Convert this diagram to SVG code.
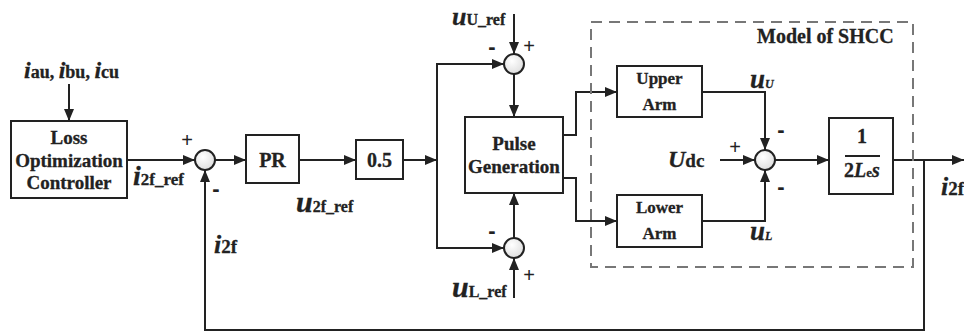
<svg xmlns="http://www.w3.org/2000/svg" width="964" height="335" viewBox="0 0 964 335">
<style>
.box{fill:#fff;stroke:#222;stroke-width:2}
.sum{fill:url(#sg);stroke:#222;stroke-width:2}
.ln{fill:none;stroke:#222;stroke-width:2}
.arr{fill:none;stroke:#222;stroke-width:2;marker-end:url(#ah)}
.t{font-weight:bold;fill:#222;stroke:#222;stroke-width:0.3}
.v{font-weight:bold;font-style:italic;fill:#222;stroke:#222;stroke-width:0.3}
.n{font-style:normal}
.sg{font-family:'Liberation Sans',Arial,sans-serif;font-size:20px;fill:#222;text-anchor:middle}
.mn{font-family:'Liberation Sans',Arial,sans-serif;font-weight:bold;font-size:22px;fill:#222;text-anchor:middle}
</style>
<defs>
<marker id="ah" markerUnits="userSpaceOnUse" markerWidth="13" markerHeight="11" refX="12" refY="5" orient="auto">
<path d="M0,0 L12,5 L0,10 z" fill="#222"/>
</marker>
<radialGradient id="sg" cx="0.4" cy="0.35" r="0.7">
<stop offset="0" stop-color="#fff"/>
<stop offset="1" stop-color="#ddd"/>
</radialGradient>
</defs>
<rect width="964" height="335" fill="#fff"/>

<g id="connectors">
<path class="arr" d="M69,84 V121"/>
<path class="arr" d="M127,160 H195"/>
<path class="arr" d="M215,160 H246"/>
<path class="arr" d="M299,160 H356"/>
<path class="arr" d="M403,160 H437"/>
<path class="arr" d="M437,160 V64 H504"/>
<path class="arr" d="M437,160 V248 H504"/>
<path class="arr" d="M514,14 V54"/>
<path class="arr" d="M514,74 V117"/>
<path class="arr" d="M514,298 V258"/>
<path class="arr" d="M514,238 V193"/>
<path class="arr" d="M563,135 H576 V92 H617"/>
<path class="arr" d="M563,178 H576 V221 H617"/>
<path class="arr" d="M702,92 H765 V150"/>
<path class="arr" d="M702,221 H765 V170"/>
<path class="arr" d="M720,160 H755"/>
<path class="arr" d="M775,160 H829"/>
<path class="arr" d="M893,160 H964"/>
<path class="arr" d="M924,160 V330 H205 V170"/>
</g>

<g font-family="Liberation Serif, Times New Roman, serif">
<g id="shcc-frame">
<rect x="591" y="22" width="322" height="245" fill="none" stroke="#777" stroke-width="2" stroke-dasharray="11 7"/>
<text class="t" x="757" y="43" font-size="20">Model of SHCC</text>
</g>

<g id="input-label">
<text class="v" x="24" y="78" font-size="24">i<tspan class="t n" font-size="18">au, </tspan>i<tspan class="t n" font-size="18">bu, </tspan>i<tspan class="t n" font-size="18">cu</tspan></text>
</g>

<g id="loss-controller">
<rect class="box" x="11" y="121" width="116" height="77"/>
<text class="t" x="69" y="144" font-size="19" text-anchor="middle">Loss</text>
<text class="t" x="69" y="167" font-size="19" text-anchor="middle">Optimization</text>
<text class="t" x="69" y="189" font-size="19" text-anchor="middle">Controller</text>
</g>

<g id="sum1">
<circle class="sum" cx="205" cy="160" r="10"/>
<text class="sg" x="187" y="147">+</text>
<text class="mn" x="216" y="196">-</text>
</g>
<text class="v" x="133" y="185" font-size="28">i<tspan class="t n" font-size="17">2f_ref</tspan></text>
<text class="v" x="214" y="253" font-size="26">i<tspan class="t n" font-size="19">2f</tspan></text>

<g id="pr">
<rect class="box" x="246" y="135" width="53" height="48"/>
<text class="t" x="272.5" y="167" font-size="20" text-anchor="middle">PR</text>
</g>
<text class="v" x="296" y="212" font-size="30">u<tspan class="t n" font-size="16">2f_ref</tspan></text>

<g id="gain">
<rect class="box" x="356" y="140" width="47" height="39"/>
<text class="t" x="379.5" y="167" font-size="20" text-anchor="middle">0.5</text>
</g>

<g id="sum-upper">
<circle class="sum" cx="514" cy="64" r="10"/>
<text class="mn" x="492" y="54">-</text>
<text class="sg" x="529" y="53">+</text>
<text class="v" x="452" y="25" font-size="26">u<tspan class="t n" font-size="16">U_ref</tspan></text>
</g>

<g id="sum-lower">
<circle class="sum" cx="514" cy="248" r="10"/>
<text class="mn" x="492" y="238">-</text>
<text class="sg" x="529" y="282">+</text>
<text class="v" x="452" y="297" font-size="30">u<tspan class="t n" font-size="16">L_ref</tspan></text>
</g>

<g id="pulse-generation">
<rect class="box" x="465" y="117" width="98" height="76"/>
<text class="t" x="514" y="150" font-size="19" text-anchor="middle">Pulse</text>
<text class="t" x="514" y="173" font-size="19" text-anchor="middle">Generation</text>
</g>

<g id="upper-arm">
<rect class="box" x="617" y="66" width="85" height="51"/>
<text class="t" x="659.5" y="84" font-size="17" text-anchor="middle">Upper</text>
<text class="t" x="659.5" y="110" font-size="17" text-anchor="middle">Arm</text>
</g>

<g id="lower-arm">
<rect class="box" x="617" y="195" width="85" height="52"/>
<text class="t" x="659.5" y="213" font-size="17" text-anchor="middle">Lower</text>
<text class="t" x="659.5" y="239" font-size="17" text-anchor="middle">Arm</text>
</g>

<text class="v" x="750" y="88" font-size="27">u<tspan font-size="12">U</tspan></text>
<text class="v" x="750" y="240" font-size="27">u<tspan font-size="12">L</tspan></text>

<g id="sum3">
<circle class="sum" cx="765" cy="160" r="10"/>
<text class="sg" x="735" y="154">+</text>
<text class="mn" x="781" y="137">-</text>
<text class="mn" x="781" y="194">-</text>
</g>
<text class="v" x="668" y="167" font-size="24">U<tspan class="t n" font-size="19">dc</tspan></text>

<g id="plant">
<rect class="box" x="829" y="118" width="64" height="76"/>
<text class="t" x="862" y="143" font-size="20" text-anchor="middle">1</text>
<line class="ln" x1="845" y1="156" x2="880" y2="156"/>
<text class="t" x="862" y="177" font-size="20" text-anchor="middle">2<tspan class="v">L</tspan><tspan font-size="13">e</tspan><tspan class="v">s</tspan></text>
</g>
<text class="v" x="941" y="195" font-size="26">i<tspan class="t n" font-size="19">2f</tspan></text>
</g>
</svg>
